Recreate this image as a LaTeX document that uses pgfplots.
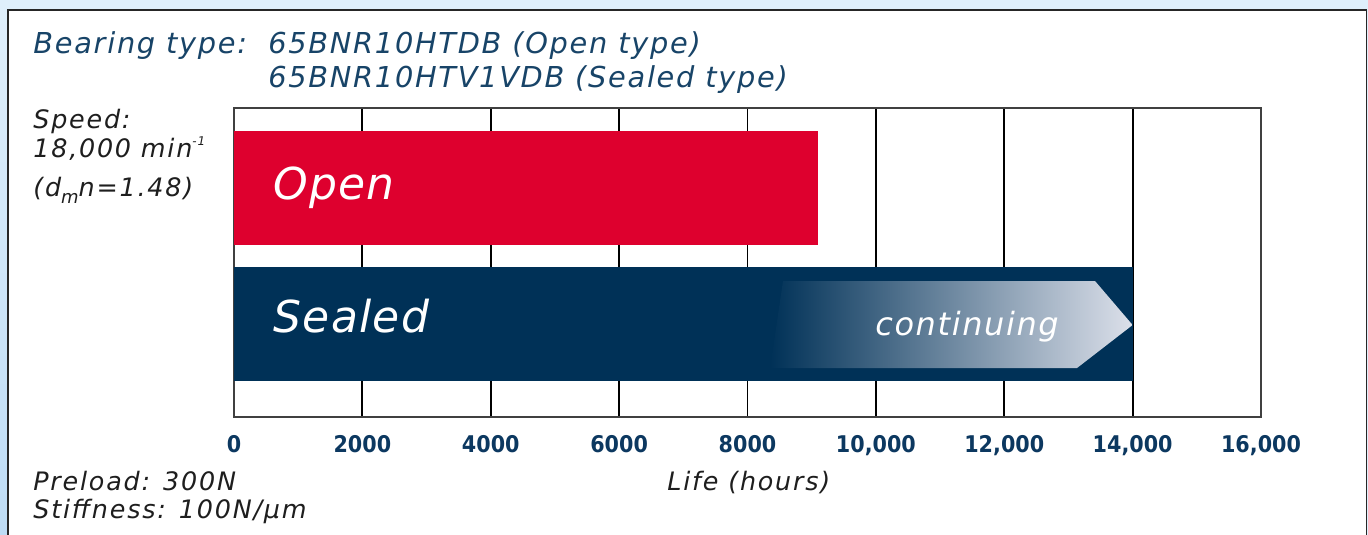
\documentclass[border=0pt]{standalone}
\usepackage{pgfplots}
\pgfplotsset{compat=1.18}
\usepackage{fontspec}
\setmainfont{DejaVu Sans}
\newfontfamily\titlefont[LetterSpace=6]{DejaVu Sans}
\newfontfamily\sidefont[LetterSpace=7]{DejaVu Sans}
\newfontfamily\bigfont[LetterSpace=3]{DejaVu Sans}
\newfontfamily\contfont[LetterSpace=5]{DejaVu Sans}
\newfontfamily\tickfont{DejaVu Sans Condensed}
\definecolor{barred}{RGB}{222,0,46}
\definecolor{navy}{RGB}{0,49,87}
\definecolor{titleblue}{RGB}{24,68,104}
\definecolor{tickblue}{RGB}{12,56,96}
\definecolor{sidetext}{RGB}{30,30,30}
\definecolor{bgblue}{RGB}{223,239,251}
\definecolor{bgleft}{RGB}{190,220,245}
\definecolor{arrowlight}{RGB}{220,224,234}
\begin{document}
\begin{tikzpicture}
\useasboundingbox (0,0) rectangle (684bp,-267.5bp);
\fill[bgblue] (0,0) rectangle (684bp,-267.5bp);
\shade[top color=bgblue, bottom color=bgleft] (0,-5bp) rectangle (4bp,-267.5bp);
\fill[white] (4bp,-5bp) rectangle (683.4bp,-270bp);
\draw[line width=0.6bp, black!85] (4bp,-270bp) -- (4bp,-5bp) -- (683.4bp,-5bp) -- (683.4bp,-270bp);

\node[anchor=base west, inner sep=0pt, text=titleblue, font=\titlefont\itshape\fontsize{14.4bp}{16bp}\selectfont] at (16.5bp,-26.5bp) {Bearing type:};
\node[anchor=base west, inner sep=0pt, text=titleblue, font=\titlefont\itshape\fontsize{14.4bp}{16bp}\selectfont] at (134bp,-26.5bp) {65BNR10HTDB (Open type)};
\node[anchor=base west, inner sep=0pt, text=titleblue, font=\titlefont\itshape\fontsize{14.4bp}{16bp}\selectfont] at (134bp,-43.5bp) {65BNR10HTV1VDB (Sealed type)};

\node[anchor=base west, inner sep=0pt, text=sidetext, font=\sidefont\itshape\fontsize{12.7bp}{14bp}\selectfont] at (16.5bp,-64bp) {Speed:};
\node[anchor=base west, inner sep=0pt, text=sidetext, font=\sidefont\itshape\fontsize{12.7bp}{14bp}\selectfont] at (16.5bp,-78.5bp) {18,000 min\raisebox{0.45em}{\fontsize{6bp}{7bp}\selectfont -1}};
\node[anchor=base west, inner sep=0pt, text=sidetext, font=\sidefont\itshape\fontsize{12.7bp}{14bp}\selectfont] at (16.5bp,-98bp) {(d\raisebox{-0.3em}{\fontsize{9bp}{10bp}\selectfont m}n=1.48)};
\node[anchor=base west, inner sep=0pt, text=sidetext, font=\sidefont\itshape\fontsize{12.7bp}{14bp}\selectfont] at (16.5bp,-245bp) {Preload: 300N};
\node[anchor=base west, inner sep=0pt, text=sidetext, font=\sidefont\itshape\fontsize{12.7bp}{14bp}\selectfont] at (16.5bp,-259bp) {Stiffness: 100N/µm};
\node[anchor=base west, inner sep=0pt, text=sidetext, font=\sidefont\itshape\fontsize{12.7bp}{14bp}\selectfont] at (333.5bp,-245bp) {Life (hours)};

\begin{axis}[
  at={(117bp,-208.5bp)}, anchor=south west,
  width=513.5bp, height=154.5bp, scale only axis,
  xmin=0, xmax=16000, ymin=0, ymax=309,
  scaled x ticks=false,
  xtick={0,2000,4000,6000,8000,10000,12000,14000,16000},
  xticklabels={0,2000,4000,6000,8000,{10,000},{12,000},{14,000},{16,000}},
  ytick=\empty,
  major tick length=0pt,
  xmajorgrids, grid style={black, line width=0.9bp},
  axis line style={black!75, line width=0.8bp},
  xticklabel style={font=\tickfont\bfseries\fontsize{11.5bp}{13bp}\selectfont, text=tickblue, anchor=base, yshift=-17.5bp},
  clip=false,
]
\addplot[xbar, bar width=114, bar shift=0pt, fill=barred, draw=none] coordinates {(9100,229)};
\addplot[xbar, bar width=114, bar shift=0pt, fill=navy, draw=none] coordinates {(14000,93)};
\shade[left color=navy, right color=arrowlight] (axis cs:8553,136) -- (axis cs:13414,136) -- (axis cs:14000,92) -- (axis cs:13134,49) -- (axis cs:8351,49) -- cycle;
\node[anchor=base west, inner sep=0pt, text=white, font=\bigfont\itshape\fontsize{22bp}{26bp}\selectfont] at (axis cs:608,217) {Open};
\node[anchor=base west, inner sep=0pt, text=white, font=\bigfont\itshape\fontsize{22bp}{26bp}\selectfont] at (axis cs:608,85) {Sealed};
\node[anchor=base west, inner sep=0pt, text=white, font=\contfont\itshape\fontsize{16bp}{19bp}\selectfont] at (axis cs:9986,82) {continuing};
\end{axis}
\end{tikzpicture}
\end{document}
